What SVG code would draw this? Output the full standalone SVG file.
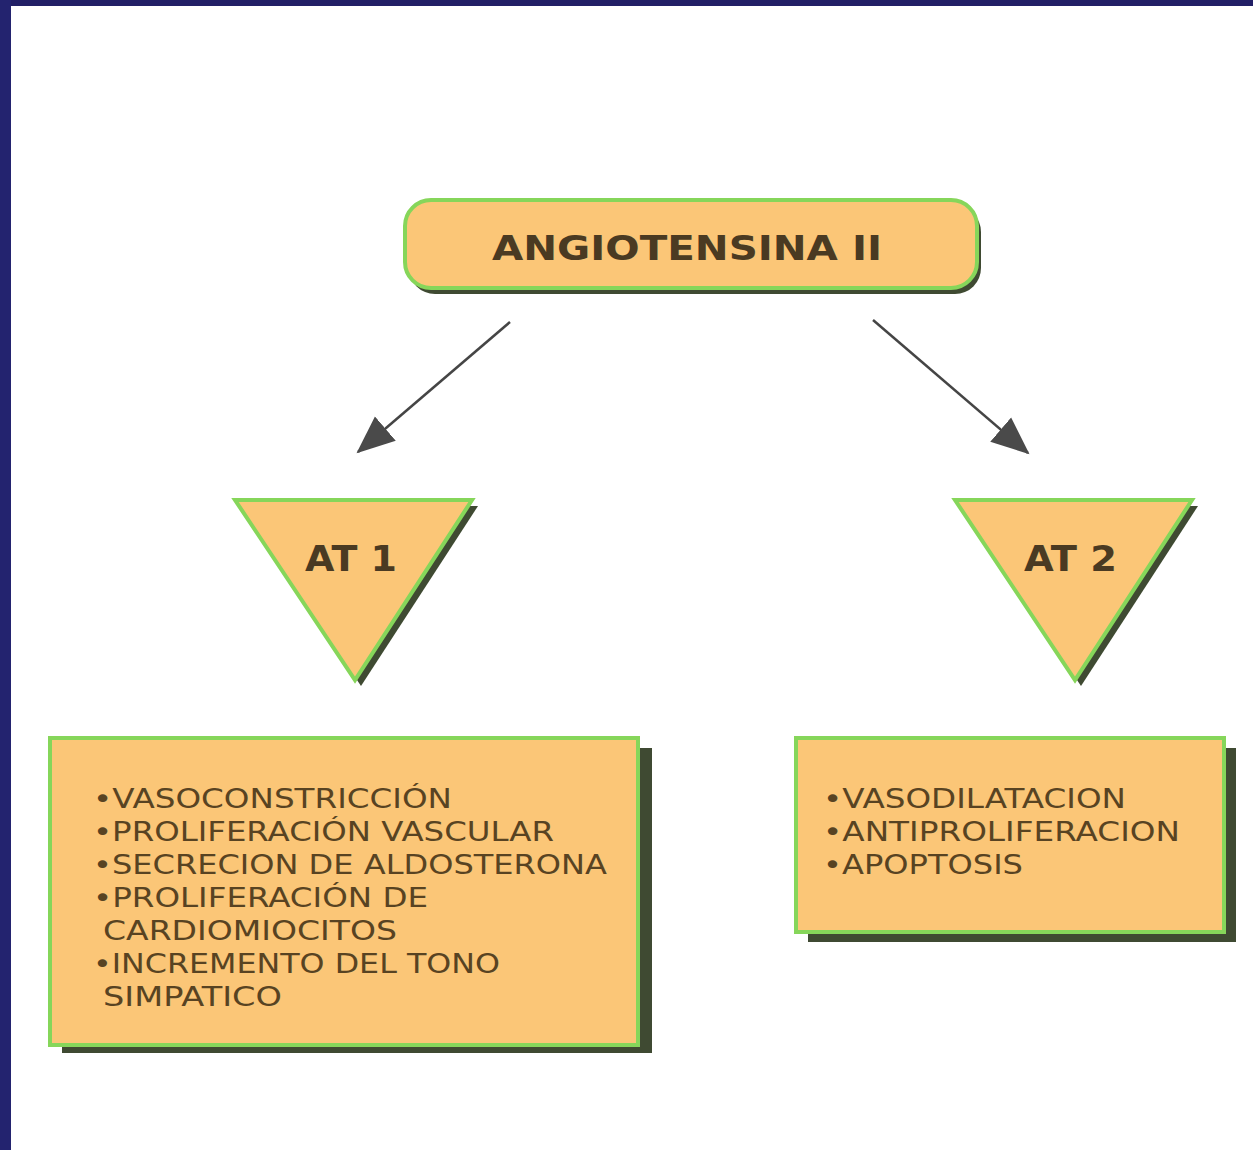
<svg xmlns="http://www.w3.org/2000/svg" width="1253" height="1150" viewBox="0 0 1253 1150">
<defs>
<style>
.fill{fill:#fbc677;stroke:#86d65a;stroke-width:4}
.shadow{fill:#3f4a32}
.title{font-family:"DejaVu Sans",Verdana,sans-serif;font-weight:bold;fill:#4a3a22}
.item{font-family:"DejaVu Sans",Verdana,sans-serif;font-size:26px;fill:#584322}
.conn{stroke:#454545;stroke-width:2.5;fill:none}
</style>
<marker id="ahb" viewBox="0 0 40 40" refX="36" refY="20" markerWidth="40" markerHeight="40" orient="auto" markerUnits="userSpaceOnUse">
<path d="M0,4 L38,20 L0,36 z" fill="#4a4a4a"/>
</marker>
</defs>
<rect x="0" y="0" width="1253" height="1150" fill="#ffffff"/>
<rect x="0" y="0" width="1253" height="6" fill="#221f66"/>
<rect x="0" y="0" width="11" height="1150" fill="#23236f"/>

<g id="connectors">
<line class="conn" x1="510" y1="322" x2="358" y2="452" marker-end="url(#ahb)"/>
<line class="conn" x1="873" y1="320" x2="1028" y2="453" marker-end="url(#ahb)"/>
</g>

<g id="angiotensina">
<rect class="shadow" x="409" y="206" width="572" height="88" rx="26"/>
<rect class="fill" x="405" y="200" width="572" height="88" rx="26"/>
<text class="title" x="492" y="260" font-size="33" textLength="390" lengthAdjust="spacingAndGlyphs">ANGIOTENSINA II</text>
</g>

<g id="at1">
<polygon class="shadow" points="241,506 478,506 361,686"/>
<polygon class="fill" points="235,500 472,500 355,680"/>
<text class="title" x="305" y="571" font-size="35" textLength="92" lengthAdjust="spacingAndGlyphs">AT 1</text>
</g>

<g id="at2">
<polygon class="shadow" points="961,506 1198,506 1081,686"/>
<polygon class="fill" points="955,500 1192,500 1075,680"/>
<text class="title" x="1024" y="571" font-size="35" textLength="93" lengthAdjust="spacingAndGlyphs">AT 2</text>
</g>

<g id="at1-effects">
<rect class="shadow" x="62" y="748" width="590" height="305"/>
<rect class="fill" x="50" y="738" width="588" height="307"/>
<text class="item" x="93" y="808" textLength="359" lengthAdjust="spacingAndGlyphs">•VASOCONSTRICCIÓN</text>
<text class="item" x="93" y="841" textLength="461" lengthAdjust="spacingAndGlyphs">•PROLIFERACIÓN VASCULAR</text>
<text class="item" x="93" y="874" textLength="514" lengthAdjust="spacingAndGlyphs">•SECRECION DE ALDOSTERONA</text>
<text class="item" x="93" y="907" textLength="335" lengthAdjust="spacingAndGlyphs">•PROLIFERACIÓN DE</text>
<text class="item" x="103" y="940" textLength="294" lengthAdjust="spacingAndGlyphs">CARDIOMIOCITOS</text>
<text class="item" x="93" y="973" textLength="407" lengthAdjust="spacingAndGlyphs">•INCREMENTO DEL TONO</text>
<text class="item" x="103" y="1006" textLength="179" lengthAdjust="spacingAndGlyphs">SIMPATICO</text>
</g>

<g id="at2-effects">
<rect class="shadow" x="808" y="748" width="428" height="194"/>
<rect class="fill" x="796" y="738" width="428" height="194"/>
<text class="item" x="823" y="808" textLength="303" lengthAdjust="spacingAndGlyphs">•VASODILATACION</text>
<text class="item" x="823" y="841" textLength="357" lengthAdjust="spacingAndGlyphs">•ANTIPROLIFERACION</text>
<text class="item" x="823" y="874" textLength="200" lengthAdjust="spacingAndGlyphs">•APOPTOSIS</text>
</g>
</svg>
